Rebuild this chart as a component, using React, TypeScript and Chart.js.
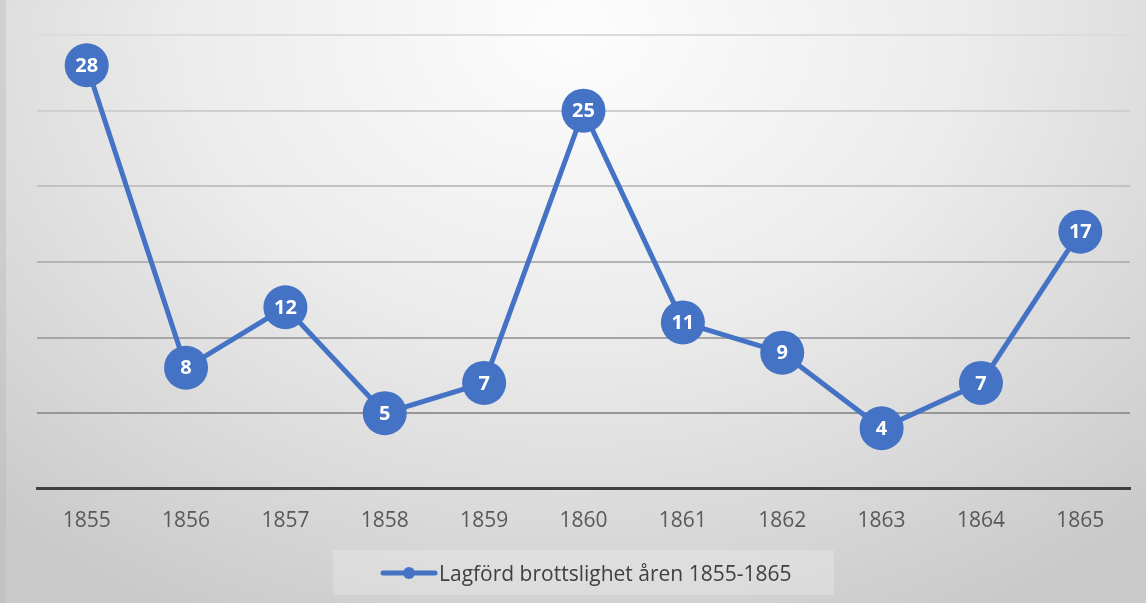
import React, { useEffect, useRef } from "react";
import { Chart, registerables } from "chart.js";

Chart.register(...registerables);

const years = ["1855", "1856", "1857", "1858", "1859", "1860", "1861", "1862", "1863", "1864", "1865"];
const crimes = [28, 8, 12, 5, 7, 25, 11, 9, 4, 7, 17];
const seriesLabel = "Lagförd brottslighet åren 1855-1865";
const yMax = 30;
const yStep = 5;

const BLUE = "#4472C4";
const FONT = "'Open Sans', 'DejaVu Sans', sans-serif";

const gridColors: Record<number, string> = {
  0: "rgba(0,0,0,0)",
  5: "#969696",
  10: "#a6a6a6",
  15: "#b4b4b4",
  20: "#c2c2c2",
  25: "#cfcfcf",
  30: "#dcdcdc",
};

const dataLabelPlugin = {
  id: "dataLabels",
  afterDatasetsDraw(chart: any) {
    const ctx = chart.ctx;
    const meta = chart.getDatasetMeta(0);
    const ds = chart.data.datasets[0];
    ctx.save();
    ctx.fillStyle = "#ffffff";
    ctx.font = `bold 20px ${FONT}`;
    ctx.textAlign = "center";
    ctx.textBaseline = "middle";
    meta.data.forEach((pt: any, i: number) => {
      ctx.fillText(String(ds.data[i]), pt.x, pt.y + 1);
    });
    ctx.restore();
  },
};

export default function App() {
  const canvasRef = useRef<HTMLCanvasElement | null>(null);

  useEffect(() => {
    if (!canvasRef.current) return;
    const chart = new Chart(canvasRef.current, {
      type: "line",
      data: {
        labels: years,
        datasets: [
          {
            label: seriesLabel,
            data: crimes,
            borderColor: BLUE,
            backgroundColor: BLUE,
            borderWidth: 5,
            pointRadius: 22,
            pointHoverRadius: 22,
            pointBackgroundColor: BLUE,
            pointBorderColor: BLUE,
            pointBorderWidth: 0,
            tension: 0,
            clip: false,
          },
        ],
      },
      options: {
        animation: false,
        responsive: false,
        maintainAspectRatio: false,
        events: [],
        layout: { autoPadding: false, padding: { left: 37, right: 16, top: 35, bottom: 49 } },
        plugins: {
          legend: { display: false },
          tooltip: { enabled: false },
          title: { display: false },
        },
        scales: {
          x: {
            offset: true,
            grid: { display: false, drawTicks: false },
            border: { display: true, color: "#404040", width: 3 },
            ticks: {
              color: "#595959",
              font: { family: FONT, size: 21 },
              padding: 20,
              maxRotation: 0,
            },
          },
          y: {
            min: 0,
            max: yMax,
            ticks: { display: false, stepSize: yStep },
            border: { display: false },
            grid: {
              drawTicks: false,
              lineWidth: 2,
              color: (c: any) => gridColors[c.tick?.value] ?? "#c0c0c0",
            },
          },
        },
      },
      plugins: [dataLabelPlugin],
    });
    return () => chart.destroy();
  }, []);

  return (
    <div
      style={{
        position: "fixed",
        left: 0,
        top: 0,
        width: 1146,
        height: 603,
        overflow: "hidden",
        background:
          "radial-gradient(ellipse 75% 110% at 50% 5%, #fdfdfd 0%, #ececec 45%, #d6d6d6 80%, #c9c9c9 100%)",
      }}
    >
      <div style={{ position: "absolute", left: 0, top: 0, width: 6, height: 603, background: "rgba(180,180,180,0.35)" }} />
      <canvas ref={canvasRef} width={1146} height={603} style={{ position: "absolute", left: 0, top: 0 }} />
      <div
        style={{
          position: "absolute",
          left: 333,
          top: 550,
          width: 501,
          height: 45,
          background: "rgba(255,255,255,0.22)",
          display: "flex",
          alignItems: "center",
          boxSizing: "border-box",
          paddingLeft: 47,
        }}
      >
        <svg width={58} height={14} style={{ display: "block" }}>
          <line x1={3} y1={7} x2={55} y2={7} stroke={BLUE} strokeWidth={5} strokeLinecap="round" />
          <circle cx={29} cy={7} r={6} fill={BLUE} />
        </svg>
        <span style={{ fontFamily: FONT, fontSize: 21, color: "#404040", whiteSpace: "nowrap", marginLeft: 1 }}>
          {seriesLabel}
        </span>
      </div>
    </div>
  );
}
